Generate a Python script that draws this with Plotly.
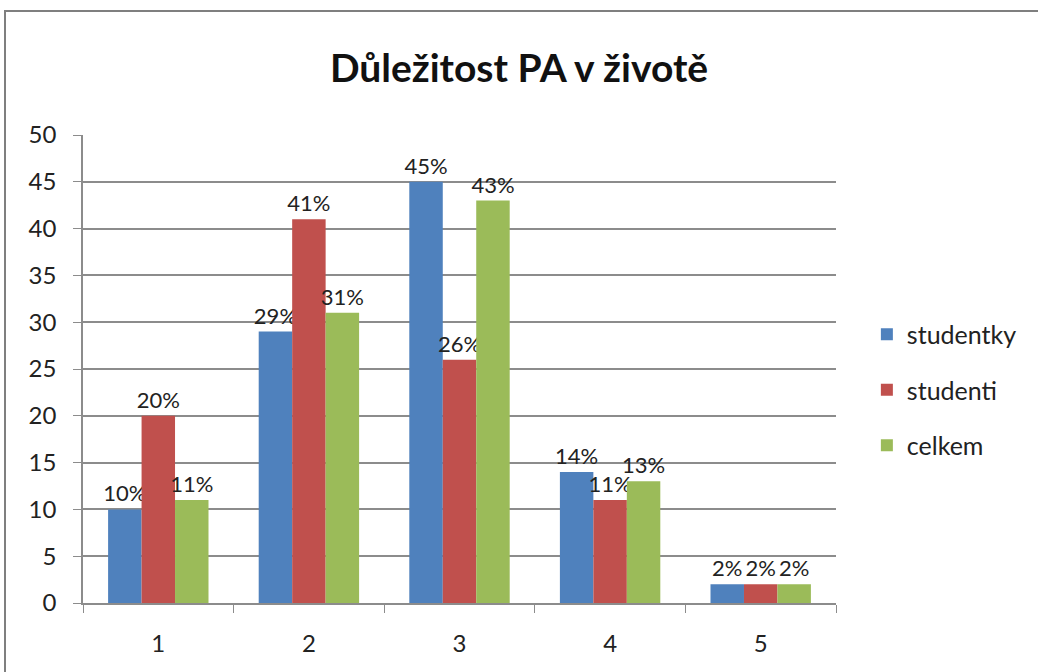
import plotly.graph_objects as go

categories = ["1", "2", "3", "4", "5"]
studentky = [10, 29, 45, 14, 2]
studenti = [20, 41, 26, 11, 2]
celkem = [11, 31, 43, 13, 2]

series = [
    ("studentky", studentky, "#4F81BD"),
    ("studenti", studenti, "#C0504D"),
    ("celkem", celkem, "#9BBB59"),
]

FONT = "Lato, 'Open Sans', sans-serif"

fig = go.Figure()
for i, (name, vals, color) in enumerate(series):
    fig.add_trace(go.Bar(
        x=categories, y=vals, name=name,
        marker=dict(color=color, line=dict(width=0)),
        text=[f"{v}%" for v in vals],
        textposition="outside",
        constraintext="none",
        textfont=dict(size=22, color="#222222", family=FONT),
        cliponaxis=False,
        legendgroup=f"g{i}",
    ))

fig.update_layout(
    width=1038, height=672,
    paper_bgcolor="white", plot_bgcolor="white",
    barmode="group", bargap=1/3, bargroupgap=0,
    margin=dict(l=83, r=202, t=135, b=69, autoexpand=False),
    font=dict(family=FONT, color="#222222"),
    title=dict(text="<b>Důležitost PA v životě</b>", x=0.5, xanchor="center",
               y=1 - 68 / 672, yanchor="middle",
               font=dict(size=39, family=FONT, color="#111111")),
    legend=dict(x=1.041, y=0.455, xanchor="left", yanchor="middle",
                font=dict(size=25, family=FONT, color="#222222"),
                tracegroupgap=20, itemwidth=30, bgcolor="rgba(0,0,0,0)"),
    showlegend=True,
)

fig.update_yaxes(range=[0, 50], dtick=5, showgrid=True, gridcolor="#8C8C8C",
                 gridwidth=1.5, showline=True, linecolor="#8C8C8C", linewidth=1.5,
                 ticks="outside", ticklen=8, tickcolor="#8C8C8C",
                 tickfont=dict(size=24, family=FONT, color="#222222"),
                 zeroline=False, ticklabelstandoff=12)
fig.update_xaxes(showline=True, linecolor="#8C8C8C", linewidth=1.5,
                 ticks="outside", ticklen=8, tickcolor="#8C8C8C", tickson="boundaries",
                 tickfont=dict(size=24, family=FONT, color="#222222"),
                 showgrid=False, ticklabelstandoff=18)

# outer chart border
fig.add_shape(type="rect", xref="paper", yref="paper",
              x0=(5 - 83) / 753, x1=(1045 - 83) / 753,
              y0=(603 - 690) / 468, y1=(603 - 11) / 468,
              line=dict(color="#7F7F7F", width=2), fillcolor="rgba(0,0,0,0)", layer="below")

fig.write_html("out.html", config={"displayModeBar": False},
               post_script="document.body.style.margin='0';")
